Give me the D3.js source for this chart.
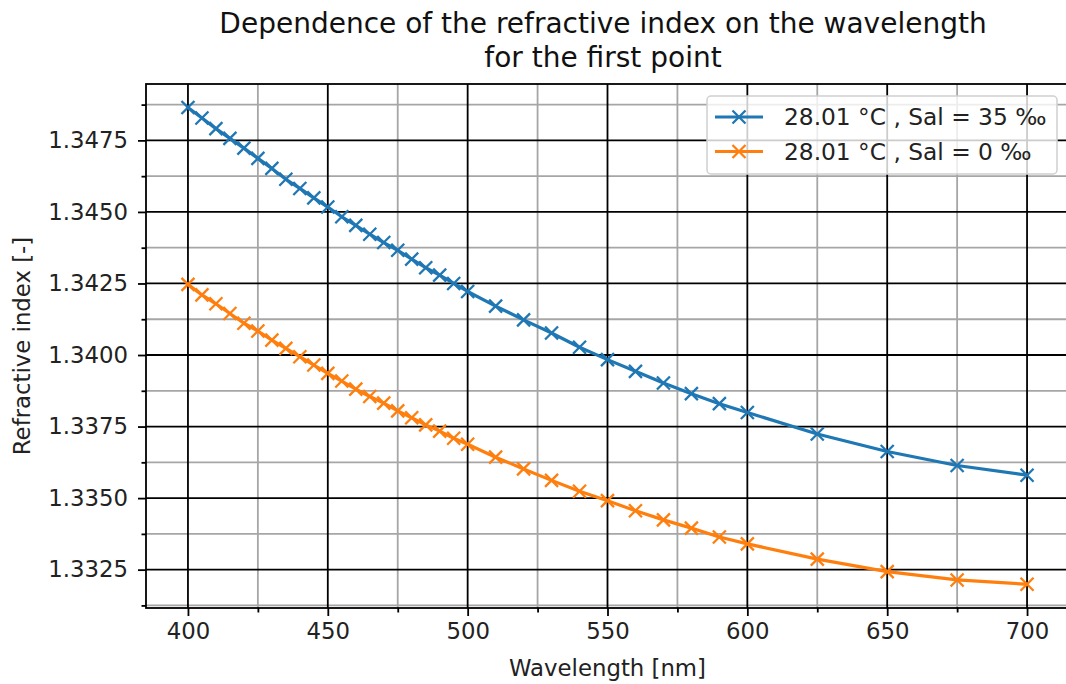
<!DOCTYPE html>
<html>
<head>
<meta charset="utf-8">
<script src="https://cdn.jsdelivr.net/npm/d3@7"></script>
<style>
  body { margin: 0; background: #fff; }
  svg { display: block; font-family: "DejaVu Sans", sans-serif; }
</style>
</head>
<body>
<svg id="chart" width="1066" height="684"></svg>
<script>
// wavelengths [nm]
var wavelengths = [400, 405, 410, 415, 420, 425, 430, 435, 440, 445, 450, 455, 460, 465, 470, 475, 480, 485, 490, 495, 500,
                   510, 520, 530, 540, 550, 560, 570, 580, 590, 600, 625, 650, 675, 700];

// refractive index, salinity 35 permil
var sal35 = [1.34865, 1.34828, 1.34791, 1.34757, 1.34723, 1.34687, 1.34652, 1.34614, 1.34582, 1.34549, 1.34517,
             1.34483, 1.34453, 1.34422, 1.34393, 1.34366, 1.34335, 1.34305, 1.34279, 1.34250, 1.34222,
             1.34171, 1.34123, 1.34077, 1.34027, 1.33984, 1.33943, 1.33902, 1.33865, 1.33830, 1.33799,
             1.33724, 1.33663, 1.33614, 1.33580];

// refractive index, salinity 0 permil
var sal0 = [1.34247, 1.34210, 1.34179, 1.34145, 1.34111, 1.34084, 1.34052, 1.34023, 1.33994, 1.33965, 1.33936,
            1.33909, 1.33881, 1.33855, 1.33832, 1.33805, 1.33781, 1.33756, 1.33734, 1.33709, 1.33688,
            1.33643, 1.33602, 1.33562, 1.33524, 1.33491, 1.33456, 1.33424, 1.33395, 1.33364, 1.33340,
            1.33287, 1.33243, 1.33214, 1.33199];

var seriesNames = ["28.01 °C , Sal = 35 ‰", "28.01 °C , Sal = 0 ‰"];
var seriesColors = ["#1f77b4", "#ff7f0e"];

var xTicks = [400, 450, 500, 550, 600, 650, 700];
var xMinorTicks = [425, 475, 525, 575, 625, 675];
var yTicks = [1.3325, 1.3350, 1.3375, 1.3400, 1.3425, 1.3450, 1.3475];
var yMinorTicks = [1.33125, 1.33375, 1.33625, 1.33875, 1.34125, 1.34375, 1.34625, 1.34875];

var svg = d3.select("#chart");

var margin = {left: 146, top: 84, right: 1069, bottom: 608};

var x = d3.scaleLinear().domain([385, 715]).range([margin.left, margin.right]);
var y = d3.scaleLinear().domain([1.33116, 1.34947]).range([margin.bottom, margin.top]);

var plot = svg.append("g");

// minor grid
plot.selectAll(".gx-minor").data(xMinorTicks).enter().append("line")
    .attr("x1", x).attr("x2", x)
    .attr("y1", margin.top).attr("y2", margin.bottom)
    .attr("stroke", "#a6a6a6").attr("stroke-width", 1.8);
plot.selectAll(".gy-minor").data(yMinorTicks).enter().append("line")
    .attr("x1", margin.left).attr("x2", margin.right)
    .attr("y1", y).attr("y2", y)
    .attr("stroke", "#a6a6a6").attr("stroke-width", 1.8);

// major grid
plot.selectAll(".gx").data(xTicks).enter().append("line")
    .attr("x1", x).attr("x2", x)
    .attr("y1", margin.top).attr("y2", margin.bottom)
    .attr("stroke", "#000").attr("stroke-width", 1.8);
plot.selectAll(".gy").data(yTicks).enter().append("line")
    .attr("x1", margin.left).attr("x2", margin.right)
    .attr("y1", y).attr("y2", y)
    .attr("stroke", "#000").attr("stroke-width", 1.8);

// axes
var xAxis = d3.axisBottom(x).tickValues(xTicks).tickSize(8).tickPadding(7).tickFormat(d3.format("d"));
var xAxisMinor = d3.axisBottom(x).tickValues(xMinorTicks).tickSize(4.5).tickFormat("");
var yAxis = d3.axisLeft(y).tickValues(yTicks).tickSize(8).tickPadding(10).tickFormat(d3.format(".4f"));
var yAxisMinor = d3.axisLeft(y).tickValues(yMinorTicks).tickSize(4.5).tickFormat("");

function styleAxis(g) {
    g.select(".domain").remove();
    g.selectAll(".tick line").attr("stroke", "#000").attr("stroke-width", 1.8);
    g.selectAll(".tick text")
        .attr("fill", "#222")
        .style("font-family", "DejaVu Sans")
        .style("font-size", "22.8px");
}

svg.append("g").attr("transform", "translate(0," + margin.bottom + ")").call(xAxis).call(styleAxis);
svg.append("g").attr("transform", "translate(0," + margin.bottom + ")").call(xAxisMinor).call(styleAxis);
svg.append("g").attr("transform", "translate(" + margin.left + ",0)").call(yAxis).call(styleAxis);
svg.append("g").attr("transform", "translate(" + margin.left + ",0)").call(yAxisMinor).call(styleAxis);

// spines
svg.append("rect")
    .attr("x", margin.left).attr("y", margin.top)
    .attr("width", margin.right - margin.left).attr("height", margin.bottom - margin.top)
    .attr("fill", "none").attr("stroke", "#000").attr("stroke-width", 1.8);

// series
var series = [sal35, sal0];
var line = d3.line()
    .x(function(d, i) { return x(wavelengths[i]); })
    .y(function(d) { return y(d); });

var ms = 6.5;
function crossPath(cx, cy) {
    return "M" + (cx - ms) + "," + (cy - ms) + "L" + (cx + ms) + "," + (cy + ms) +
           "M" + (cx - ms) + "," + (cy + ms) + "L" + (cx + ms) + "," + (cy - ms);
}

series.forEach(function(vals, k) {
    plot.append("path")
        .attr("d", line(vals))
        .attr("fill", "none")
        .attr("stroke", seriesColors[k])
        .attr("stroke-width", 3.2)
        .attr("stroke-linejoin", "round")
        .attr("stroke-linecap", "square");

    plot.selectAll(".m" + k).data(vals).enter().append("path")
        .attr("d", function(d, i) { return crossPath(x(wavelengths[i]), y(d)); })
        .attr("stroke", seriesColors[k])
        .attr("stroke-width", 2.3)
        .attr("fill", "none");
}); //series

// title
var midX = (margin.left + margin.right) / 2;
svg.append("text")
    .attr("x", 603).attr("y", 33)
    .attr("text-anchor", "middle")
    .attr("fill", "#111")
    .style("font-size", "28px")
    .text("Dependence of the refractive index on the wavelength");
svg.append("text")
    .attr("x", 603).attr("y", 67)
    .attr("text-anchor", "middle")
    .attr("fill", "#111")
    .style("font-size", "28px")
    .text("for the first point");

// axis labels
svg.append("text")
    .attr("x", midX).attr("y", 676)
    .attr("text-anchor", "middle")
    .attr("fill", "#222")
    .style("font-size", "22.8px")
    .text("Wavelength [nm]");
svg.append("text")
    .attr("transform", "translate(30," + ((margin.top + margin.bottom) / 2) + ") rotate(-90)")
    .attr("text-anchor", "middle")
    .attr("fill", "#222")
    .style("font-size", "22.8px")
    .text("Refractive index [-]");

// legend
var legend = svg.append("g").attr("transform", "translate(707,96)");
legend.append("rect")
    .attr("width", 350).attr("height", 78)
    .attr("rx", 4).attr("ry", 4)
    .attr("fill", "#fff").attr("fill-opacity", 0.8)
    .attr("stroke", "#d0d0d0").attr("stroke-width", 1.5);

var rows = legend.selectAll(".row").data(seriesNames).enter().append("g")
    .attr("transform", function(d, i) { return "translate(0," + (21 + i * 34.5) + ")"; });
rows.append("line")
    .attr("x1", 8).attr("x2", 56)
    .attr("stroke", function(d, i) { return seriesColors[i]; })
    .attr("stroke-width", 3.2);
rows.append("path")
    .attr("d", crossPath(32, 0))
    .attr("stroke", function(d, i) { return seriesColors[i]; })
    .attr("stroke-width", 2.3);
rows.append("text")
    .attr("x", 77).attr("y", 8)
    .attr("fill", "#222")
    .style("font-size", "23.3px")
    .text(function(d) { return d; });
</script>
</body>
</html>
